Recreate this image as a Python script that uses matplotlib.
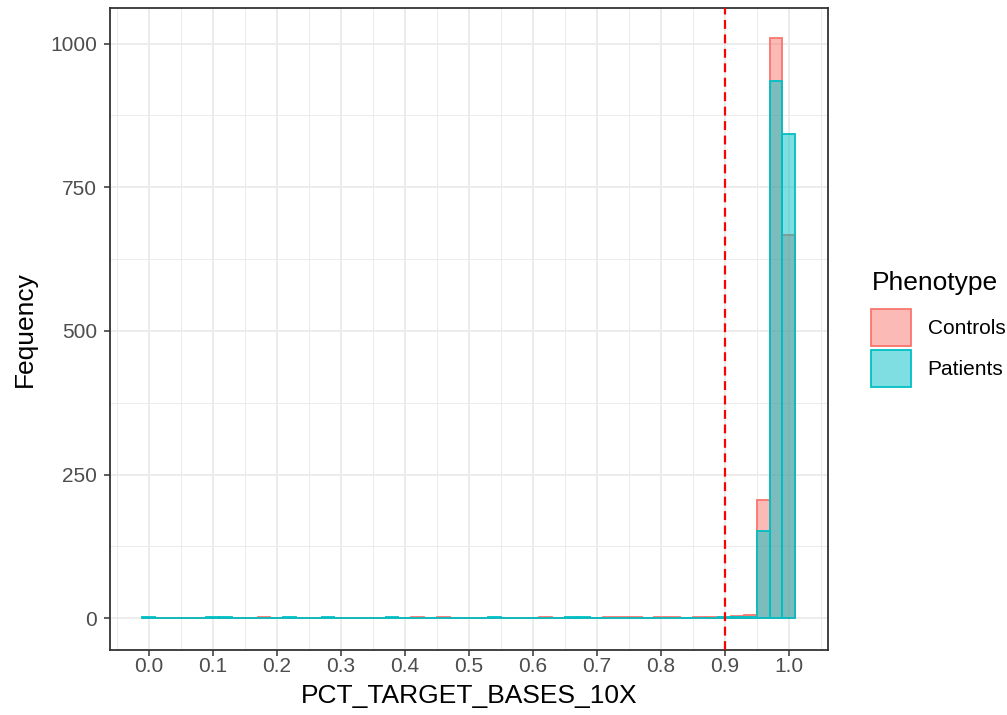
import numpy as np
import matplotlib.pyplot as plt
from matplotlib.colors import to_rgb
from matplotlib.patches import Patch
from matplotlib.ticker import MultipleLocator

plt.rcParams['font.family'] = ['Liberation Sans', 'DejaVu Sans']

# histogram bins (width 0.02, centred on 0.00 ... 1.00)
bin_width = 0.02
bin_centers = np.round(np.arange(0, 51) * bin_width, 2)

controls = [0, 0, 0, 0, 0, 1, 1, 0, 0, 2,
            0, 1, 0, 0, 1, 0, 0, 0, 0, 1,
            0, 2, 0, 2, 0, 0, 0, 1, 0, 0,
            0, 2, 0, 1, 1, 0, 2, 2, 2, 1,
            2, 2, 1, 3, 2, 1, 4, 6, 205, 1010,
            667]
patients = [2, 0, 0, 0, 0, 2, 2, 0, 0, 0,
            0, 2, 0, 0, 2, 0, 0, 0, 0, 2,
            0, 0, 0, 0, 0, 0, 0, 2, 0, 0,
            0, 0, 0, 2, 2, 0, 0, 0, 1, 0,
            0, 0, 1, 0, 1, 2, 2, 3, 152, 934,
            843]

groups = ["Controls", "Patients"]
colors = ["#F8766D", "#00BFC4"]
cutoff = 0.9

fig = plt.figure(figsize=(10.07, 7.15), dpi=100)
ax = fig.add_axes([0.109, 0.091, 0.713, 0.898])

# translucent fill, solid outline (ggplot style overlapping histograms)
for counts, col in zip([controls, patients], colors):
    ax.bar(bin_centers, counts, width=bin_width, align='center',
           facecolor=(*to_rgb(col), 0.5), edgecolor=col, linewidth=1.3,
           zorder=3)

ax.axvline(cutoff, color='red', linestyle=(0, (4, 2.5)), linewidth=1.6, zorder=4)

ax.set_xlim(-0.061, 1.061)
ax.set_ylim(-55, 1062)
ax.xaxis.set_major_locator(MultipleLocator(0.1))
ax.xaxis.set_minor_locator(MultipleLocator(0.05))
ax.yaxis.set_major_locator(MultipleLocator(250))
ax.yaxis.set_minor_locator(MultipleLocator(125))
ax.xaxis.set_major_formatter(plt.FuncFormatter(lambda v, p: f"{v:.1f}"))

ax.grid(True, which='major', color='#EBEBEB', linewidth=1.3, zorder=0)
ax.grid(True, which='minor', color='#EBEBEB', linewidth=0.7, zorder=0)
ax.set_axisbelow(True)

ax.tick_params(which='major', length=4, width=1.1, color='#333333',
               labelsize=15, labelcolor='#4D4D4D')
ax.tick_params(axis='x', which='major', pad=1)
ax.tick_params(axis='y', which='major', pad=5)
ax.tick_params(which='minor', length=0)
for s in ax.spines.values():
    s.set_color('#333333')
    s.set_linewidth(1.3)

ax.set_xlabel("PCT_TARGET_BASES_10X", fontsize=19, labelpad=6)
ax.set_ylabel("Fequency", fontsize=19, labelpad=10)

handles = [Patch(facecolor=(*to_rgb(c), 0.5), edgecolor=c, linewidth=1.3)
           for c in colors]
leg = fig.legend(handles, groups, title="Phenotype", loc='center left',
                 bbox_to_anchor=(0.855, 0.54), frameon=False, fontsize=15,
                 title_fontsize=19, handlelength=1.9, handleheight=2.35,
                 labelspacing=0.2, handletextpad=0.8, borderpad=0,
                 alignment='left')
leg._legend_box.sep = 10

fig.savefig("out.png", dpi=100)
